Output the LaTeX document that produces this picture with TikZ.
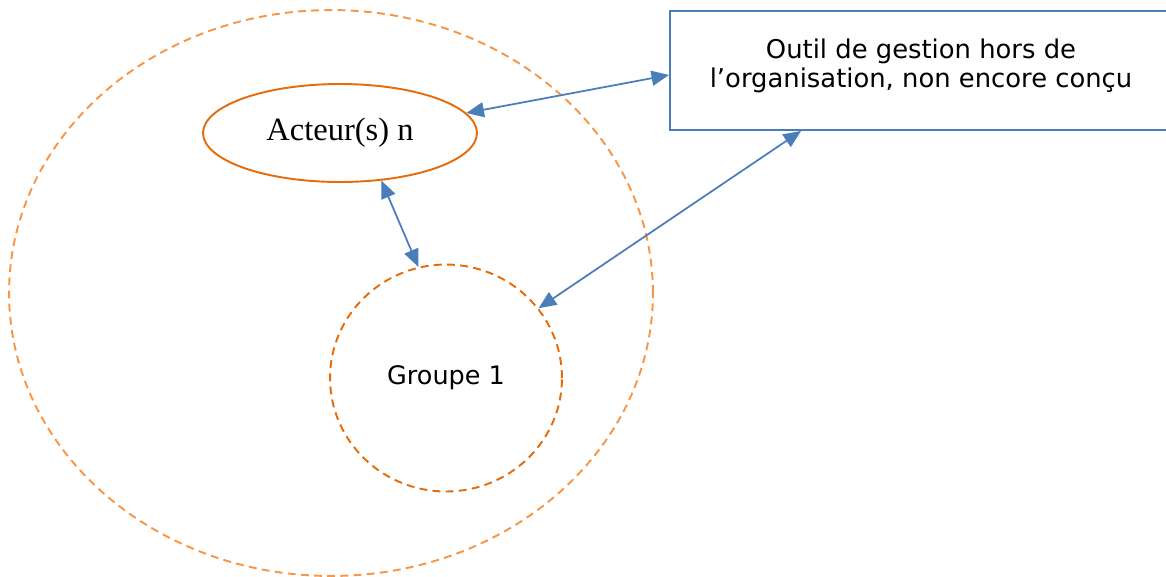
\documentclass[tikz,border=0pt]{standalone}
\usepackage{fontspec}
\setmainfont{Liberation Serif}
\newfontfamily\lucida{DejaVu Sans}
\usetikzlibrary{shapes.geometric, arrows.meta}
\definecolor{orangelight}{RGB}{247,150,70}
\definecolor{orangedark}{RGB}{228,108,10}
\definecolor{lineblue}{RGB}{74,126,187}
\tikzstyle{cercle} = [ellipse, draw=orangelight, line width=1.1pt, dash pattern=on 4.5pt off 3pt]
\tikzstyle{acteur} = [ellipse, draw=orangedark, line width=1.1pt, minimum width=5.48cm, minimum height=1.96cm, font=\fontsize{18.5}{20}\selectfont]
\tikzstyle{groupe} = [ellipse, draw=orangedark, line width=1.1pt, dash pattern=on 4.5pt off 3pt, minimum width=4.64cm, minimum height=4.54cm, font=\lucida\fontsize{14.5}{16.5}\selectfont]
\tikzstyle{outil} = [rectangle, draw=lineblue, line width=1.1pt, minimum width=10.2cm, minimum height=2.38cm]
\tikzstyle{outiltexte} = [align=center, font=\lucida\fontsize{14.7}{16.5}\selectfont]
\tikzstyle{edge} = [draw=lineblue, line width=1pt, {Triangle[length=10pt, width=8.5pt]}-{Triangle[length=10pt, width=8.5pt]}]

\begin{document}
\begin{tikzpicture}[x=0.02cm, y=-0.02cm]
\useasboundingbox (0,0) rectangle (1166,576);

\node (organisation) [cercle, minimum width=12.88cm, minimum height=11.32cm] at (331,293) {};
\node (acteurs) [acteur] at (340,133) {Acteur(s) n};
\node (groupe1) [groupe] at (446,378) {Groupe 1};
\node (outil) [outil] at (925,70.5) {};
\node (outillabel) [outiltexte] at (921,66) {Outil de gestion hors de\\l’organisation, non encore conçu};

\draw [edge] (acteurs.9) -- (outil.181);
\draw [edge] (acteurs.-49) -- (groupe1.104);
\draw [edge] (groupe1.37) -- (outil.206);

\end{tikzpicture}
\end{document}
